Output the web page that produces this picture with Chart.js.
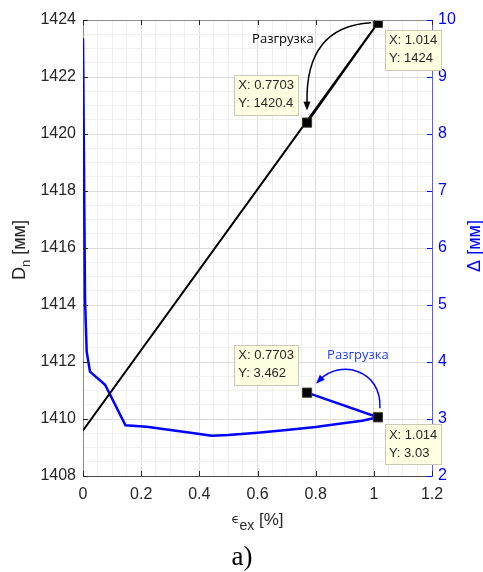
<!DOCTYPE html>
<html>
<head>
<meta charset="utf-8">
<script src="https://cdn.jsdelivr.net/npm/chart.js@4.4.1/dist/chart.umd.min.js"></script>
<style>
  html, body { margin: 0; padding: 0; background: #ffffff; }
  #wrap { width: 483px; height: 572px; }
</style>
</head>
<body>
<div id="wrap"><canvas id="strainChart" width="483" height="572"></canvas></div>
<script>
// loading / unloading of the pipe diameter
const strainLoad = [0, 1.014, 0.7703];
const diameter = [1409.6, 1423.9, 1420.4];

// gap (right axis), last point is the unloading step
const strainGap = [0, 0.007, 0.0127, 0.024, 0.076, 0.146, 0.219, 0.3, 0.37, 0.443, 0.5, 0.6, 0.7, 0.8, 0.9, 0.96, 1.014, 0.7703];
const gap = [9.68, 5.09, 4.18, 3.83, 3.6, 2.89, 2.865, 2.808, 2.758, 2.707, 2.72, 2.76, 2.805, 2.86, 2.93, 2.97, 3.03, 3.462];

const xRange = [0, 1.2];
const leftRange = [1408, 1424];
const rightRange = [2, 10];

const tipLabels = [
  { series: "load", index: 1, lines: ["X: 1.014", "Y: 1424"], side: "right" },
  { series: "load", index: 2, lines: ["X: 0.7703", "Y: 1420.4"], side: "left" },
  { series: "gap", index: 17, lines: ["X: 0.7703", "Y: 3.462"], side: "left" },
  { series: "gap", index: 16, lines: ["X: 1.014", "Y: 3.03"], side: "right" }
];
const unloadText = "Разгрузка";

const BLUE = "#0000ff";
const AXIS = "#262626";

function isMajor(v, step) {
  const r = v / step;
  return Math.abs(r - Math.round(r)) < 1e-6;
}

function pointPx(chart, series, i) {
  const xs = chart.scales.x;
  if (series === "load") {
    return { x: xs.getPixelForValue(strainLoad[i]), y: chart.scales.y.getPixelForValue(diameter[i]) };
  }
  return { x: xs.getPixelForValue(strainGap[i]), y: chart.scales.y2.getPixelForValue(gap[i]) };
}

function drawRich(ctx, parts, cx, cy) {
  let total = 0;
  parts.forEach(p => { ctx.font = p.font; p.w = ctx.measureText(p.text).width; total += p.w; });
  let x = cx - total / 2;
  ctx.textAlign = "left";
  ctx.textBaseline = "alphabetic";
  parts.forEach(p => {
    ctx.font = p.font;
    ctx.fillStyle = p.color;
    ctx.fillText(p.text, x, cy + (p.dy || 0));
    x += p.w;
  });
}

function arrowHead(ctx, x, y, fromX, fromY, color) {
  const a = Math.atan2(y - fromY, x - fromX);
  const len = 9, half = 3.5;
  ctx.save();
  ctx.translate(x, y);
  ctx.rotate(a);
  ctx.fillStyle = color;
  ctx.beginPath();
  ctx.moveTo(0, 0);
  ctx.lineTo(-len, -half);
  ctx.lineTo(-len, half);
  ctx.closePath();
  ctx.fill();
  ctx.restore();
}

const decorPlugin = {
  id: "decor",
  afterDatasetsDraw(chart) {
    const ctx = chart.ctx;
    const area = chart.chartArea;
    ctx.save();

    // top border + inward tick marks (matlab style)
    ctx.strokeStyle = "#8c8c8c";
    ctx.lineWidth = 1;
    ctx.beginPath();
    ctx.moveTo(area.left, area.top + 0.5);
    ctx.lineTo(area.right, area.top + 0.5);
    ctx.stroke();

    ctx.strokeStyle = AXIS;
    chart.scales.x.ticks.forEach((t, i) => {
      if (!isMajor(t.value, 0.2)) return;
      const px = Math.round(chart.scales.x.getPixelForTick(i)) + 0.5;
      ctx.beginPath();
      ctx.moveTo(px, area.bottom); ctx.lineTo(px, area.bottom - 5);
      ctx.moveTo(px, area.top); ctx.lineTo(px, area.top + 5);
      ctx.stroke();
    });
    chart.scales.y.ticks.forEach((t, i) => {
      if (!isMajor(t.value, 2)) return;
      const py = Math.round(chart.scales.y.getPixelForTick(i)) + 0.5;
      ctx.beginPath();
      ctx.moveTo(area.left, py); ctx.lineTo(area.left + 5, py);
      ctx.stroke();
    });
    ctx.strokeStyle = BLUE;
    chart.scales.y2.ticks.forEach((t, i) => {
      const py = Math.round(chart.scales.y2.getPixelForTick(i)) + 0.5;
      ctx.beginPath();
      ctx.moveTo(area.right, py); ctx.lineTo(area.right - 5, py);
      ctx.stroke();
    });

    // curved arrows + labels
    const p1 = pointPx(chart, "load", 1);
    const p2 = pointPx(chart, "load", 2);
    ctx.strokeStyle = "#000";
    ctx.lineWidth = 1.5;
    const b0 = { x: p1.x - 7, y: p1.y };
    const bc = { x: p2.x - 2, y: p1.y + 4 };
    const b1 = { x: p2.x, y: p2.y - 13 };
    ctx.beginPath();
    ctx.moveTo(b0.x, b0.y);
    ctx.quadraticCurveTo(bc.x, bc.y, b1.x, b1.y - 6);
    ctx.stroke();
    arrowHead(ctx, b1.x, b1.y + 1, bc.x + 1, bc.y, "#000");

    ctx.font = "13px 'Open Sans'";
    ctx.fillStyle = "#000";
    ctx.textAlign = "center";
    ctx.textBaseline = "middle";
    ctx.fillText(unloadText, p1.x - 95, p1.y + 16);

    const p3 = pointPx(chart, "gap", 16);
    const p4 = pointPx(chart, "gap", 17);
    ctx.strokeStyle = BLUE;
    const c0 = { x: p3.x + 2, y: p3.y - 9 };
    const c1 = { x: p3.x + 4, y: p3.y - 48 };
    const c2 = { x: p3.x - 38, y: p3.y - 58 };
    const c3 = { x: p4.x + 9, y: p4.y - 9 };
    ctx.beginPath();
    ctx.moveTo(c0.x, c0.y);
    ctx.bezierCurveTo(c1.x, c1.y, c2.x, c2.y, c3.x + 4, c3.y - 4);
    ctx.stroke();
    arrowHead(ctx, c3.x, c3.y, c2.x, c2.y, BLUE);

    ctx.font = "13px 'Open Sans'";
    ctx.fillStyle = "#1f3cff";
    ctx.fillText(unloadText, p3.x - 20, p3.y - 62);

    // data tips
    tipLabels.forEach(tip => {
      const p = pointPx(chart, tip.series, tip.index);
      ctx.font = "13px 'Liberation Sans'";
      const w = Math.max(...tip.lines.map(l => ctx.measureText(l).width)) + 8;
      const h = 40;
      const bx = tip.side === "right" ? p.x + 7 : p.x - 9 - w;
      const by = tip.side === "right" ? p.y + 7 : p.y - 8 - h;
      ctx.fillStyle = "#ffffe1";
      ctx.strokeStyle = "#c8c8b4";
      ctx.lineWidth = 1;
      ctx.fillRect(Math.round(bx), Math.round(by), Math.round(w), h);
      ctx.strokeRect(Math.round(bx) + 0.5, Math.round(by) + 0.5, Math.round(w), h);
      ctx.fillStyle = "#262626";
      ctx.textAlign = "left";
      ctx.textBaseline = "middle";
      ctx.fillText(tip.lines[0], bx + 4, by + 11);
      ctx.fillText(tip.lines[1], bx + 4, by + 29);
    });

    ctx.restore();
  },
  afterDraw(chart) {
    const ctx = chart.ctx;
    const area = chart.chartArea;
    const midY = (area.top + area.bottom) / 2;
    ctx.save();

    // left axis title
    ctx.save();
    ctx.translate(25, midY + 2);
    ctx.rotate(-Math.PI / 2);
    drawRich(ctx, [
      { text: "D", font: "18px 'Liberation Sans'", color: AXIS },
      { text: "n", font: "13px 'Liberation Sans'", color: AXIS, dy: 5 },
      { text: " [мм]", font: "18px 'Liberation Sans'", color: AXIS }
    ], 0, 0);
    ctx.restore();

    // right axis title
    ctx.save();
    ctx.translate(480, midY - 2);
    ctx.rotate(-Math.PI / 2);
    drawRich(ctx, [
      { text: "Δ [мм]", font: "18px 'Liberation Sans'", color: BLUE }
    ], 0, 0);
    ctx.restore();

    // x axis title
    drawRich(ctx, [
      { text: "ϵ", font: "13px 'DejaVu Sans'", color: AXIS, dy: -2 },
      { text: "ex", font: "14px 'Liberation Sans'", color: AXIS, dy: 5 },
      { text: " [%]", font: "17px 'Liberation Sans'", color: AXIS }
    ], (area.left + area.right) / 2, area.bottom + 49);

    // panel letter
    ctx.font = "27px 'Liberation Serif'";
    ctx.fillStyle = "#000";
    ctx.textAlign = "center";
    ctx.textBaseline = "alphabetic";
    ctx.fillText("a)", 242, 565);

    ctx.restore();
  }
};

const tickFont = { family: "Liberation Sans", size: 16 };

new Chart(document.getElementById("strainChart").getContext("2d"), {
  type: "scatter",
  data: {
    datasets: [
      {
        label: "Dn",
        data: strainLoad.map((x, i) => ({ x: x, y: diameter[i] })),
        yAxisID: "y",
        showLine: true,
        borderColor: "#000000",
        borderWidth: 2,
        pointStyle: "rect",
        pointRadius: strainLoad.map((x, i) => (i === 0 ? 0 : 6.5)),
        pointBackgroundColor: "#000000",
        pointBorderColor: "#3a3a2a",
        pointBorderWidth: 1
      },
      {
        label: "Delta",
        data: strainGap.map((x, i) => ({ x: x, y: gap[i] })),
        yAxisID: "y2",
        showLine: true,
        borderColor: BLUE,
        borderWidth: 2.5,
        pointStyle: "rect",
        pointRadius: strainGap.map((x, i) => (i >= strainGap.length - 2 ? 6.5 : 0)),
        pointBackgroundColor: "#000000",
        pointBorderColor: "#3a3a2a",
        pointBorderWidth: 1
      }
    ]
  },
  options: {
    responsive: false,
    animation: false,
    layout: { padding: { top: 20, left: 0, right: 0, bottom: 0 } },
    plugins: {
      legend: { display: false },
      tooltip: { enabled: false }
    },
    scales: {
      x: {
        type: "linear",
        min: xRange[0],
        max: xRange[1],
        afterFit(scale) { scale.height = 96; },
        ticks: {
          stepSize: 0.05,
          autoSkip: false,
          maxRotation: 0,
          padding: 9,
          color: AXIS,
          font: tickFont,
          callback: v => (isMajor(v, 0.2) ? String(Math.round(v * 10) / 10) : "")
        },
        grid: {
          drawTicks: false,
          color: ctx => (isMajor(ctx.tick.value, 0.2) ? "#dcdcdc" : "#efefef")
        },
        border: { color: "#4a4a4a" }
      },
      y: {
        type: "linear",
        position: "left",
        min: leftRange[0],
        max: leftRange[1],
        afterFit(scale) { scale.width = 83; },
        ticks: {
          stepSize: 0.5,
          autoSkip: false,
          padding: 7,
          color: AXIS,
          font: tickFont,
          callback: v => (isMajor(v, 2) ? String(v) : "")
        },
        grid: {
          drawTicks: false,
          color: ctx => (isMajor(ctx.tick.value, 2) ? "#dcdcdc" : "#efefef")
        },
        border: { color: "#8c8c8c" }
      },
      y2: {
        type: "linear",
        position: "right",
        min: rightRange[0],
        max: rightRange[1],
        afterFit(scale) { scale.width = 51; },
        ticks: {
          stepSize: 1,
          padding: 6,
          color: BLUE,
          font: tickFont
        },
        grid: { drawOnChartArea: false, drawTicks: false },
        border: { color: "#5a5aff" }
      }
    }
  },
  plugins: [decorPlugin]
});
</script>
</body>
</html>
